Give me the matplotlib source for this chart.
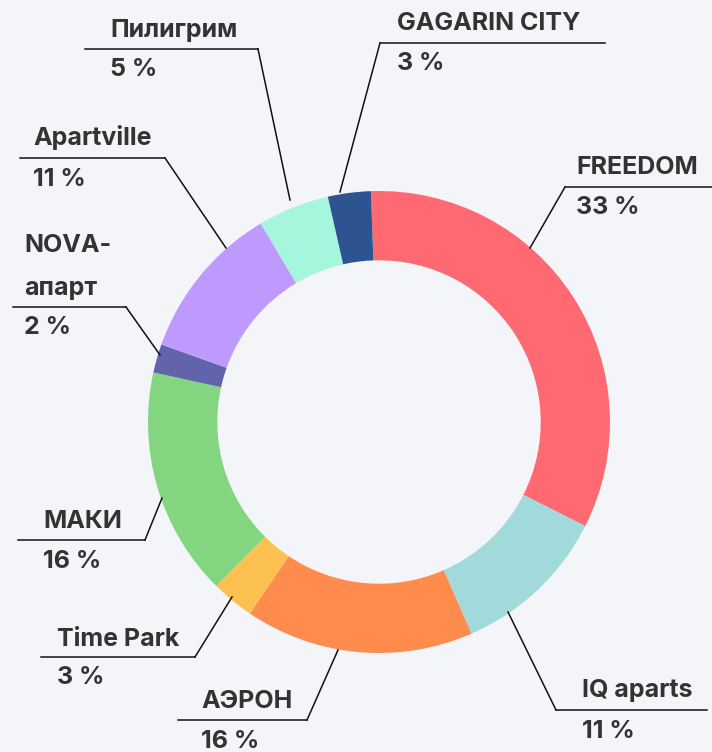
import matplotlib
matplotlib.use('Agg')
import matplotlib.pyplot as plt

## data
names = ['FREEDOM', 'IQ aparts', 'АЭРОН', 'Time Park', 'МАКИ',
         'NOVA-\nапарт', 'Apartville', 'Пилигрим', 'GAGARIN CITY']
shares = [33, 11, 16, 3, 16, 2, 11, 5, 3]
colors = ['#FF6A72', '#A2D9DA', '#FF8C4C', '#FDC152', '#84D57F',
          '#6264AB', '#BF9AFE', '#A5F6DC', '#2D5491']

# label layout in pixels (y from top): text x, name y, underline y,
# underline x0, x1, leader start, leader end on the ring
layout = {
    'FREEDOM':      (576, 168, 187, 565, 712, (565, 187), (530, 248)),
    'IQ aparts':    (582, 691, 710, 556, 707, (556, 710), (508, 612)),
    'АЭРОН':        (201, 702, 720, 178, 307, (307, 720), (338, 650)),
    'Time Park':    (57, 640, 657, 41, 195, (195, 657), (232, 597)),
    'МАКИ':         (43, 521, 540, 18, 145, (145, 540), (162, 498)),
    'NOVA-\nапарт': (24, 266, 307, 13, 126, (126, 307), (160, 355)),
    'Apartville':   (33, 137, 158, 20, 165, (165, 158), (226, 248)),
    'Пилигрим':     (110, 30, 49, 85, 258, (258, 49), (290, 200)),
    'GAGARIN CITY': (397, 23, 43, 380, 605, (380, 43), (340, 192)),
}

W, H = 712, 752
bg = '#F4F5F9'
txt = '#333333'

fig = plt.figure(figsize=(W / 100, H / 100), dpi=100, facecolor=bg)
ax = fig.add_axes([0, 0, 1, 1])
ax.set_facecolor(bg)

cx, cy, r = 379, H - 422, 231
ax.pie(shares, colors=colors, startangle=92, counterclock=False,
       center=(cx, cy), radius=r, frame=True,
       wedgeprops=dict(width=r * 0.3, linewidth=0))
ax.set_xlim(0, W)
ax.set_ylim(0, H)
ax.set_aspect('equal')
ax.axis('off')

font = dict(family=['Inter', 'DejaVu Sans'], weight='bold', fontsize=18, color=txt)
for name, val in zip(names, shares):
    tx, ny, uy, x0, x1, p0, p1 = layout[name]
    ax.plot([x0, x1], [H - uy, H - uy], color='#111111', lw=1.1)
    ax.plot([p0[0], p1[0]], [H - p0[1], H - p1[1]], color='#111111', lw=1.1)
    if '\n' in name:
        parts = name.split('\n')
        ax.text(tx, H - 246, parts[0], ha='left', va='center', **font)
        ax.text(tx, H - 288, parts[1], ha='left', va='center', **font)
    else:
        ax.text(tx, H - ny, name, ha='left', va='center', **font)
    ax.text(tx, H - (uy + 21), str(val) + ' %', ha='left', va='center', **font)

plt.savefig('out.png', dpi=100, facecolor=bg)
